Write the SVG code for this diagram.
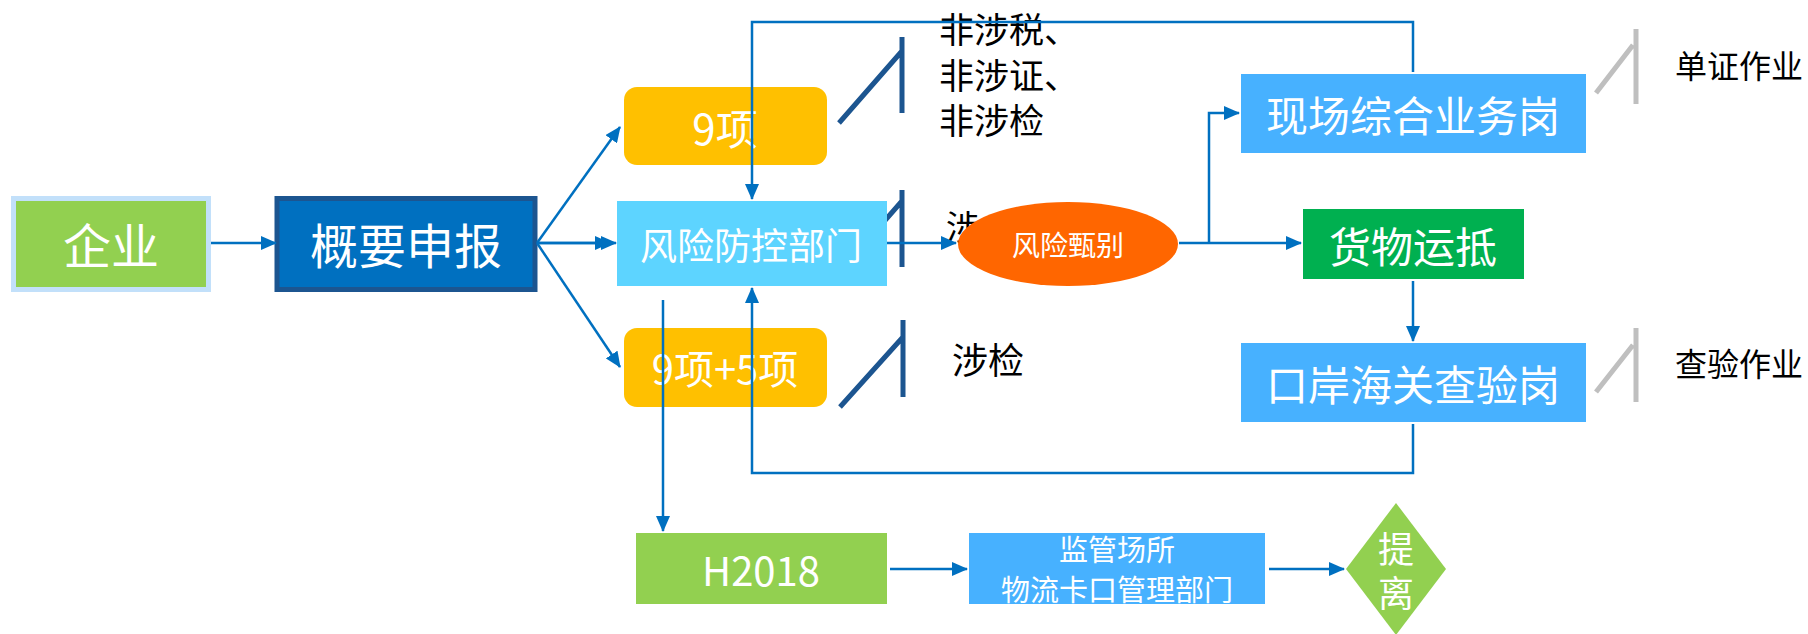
<svg xmlns="http://www.w3.org/2000/svg" width="1808" height="634" viewBox="0 0 1808 634">
<defs>
<marker id="ah" markerUnits="userSpaceOnUse" markerWidth="16" markerHeight="14" refX="15" refY="7" orient="auto">
<path d="M0,0 L16,7 L0,14 Z" fill="#0070C0"/>
</marker>
<style>
.t{font-family:"Noto Sans CJK SC","Noto Sans",sans-serif;fill:#fff;text-anchor:middle;dominant-baseline:central}
.k{font-family:"Noto Sans CJK SC","Noto Sans",sans-serif;fill:#000}
.c{fill:none;stroke:#0070C0;stroke-width:2.5}
.sb{fill:none;stroke:#1C5590;stroke-width:5}
.sg{fill:none;stroke:#BFBFBF;stroke-width:5}
</style>
</defs>
<rect width="1808" height="634" fill="#fff"/>
<g id="decor">
<path class="sb" d="M839,123 L902,51 M902,37 V113"/>
<text class="k" font-size="35"><tspan x="939" y="43">非涉税、</tspan><tspan x="939" y="89">非涉证、</tspan><tspan x="939" y="134">非涉检</tspan></text>
<path class="sb" d="M839,273 L902,201 M902,190 V267"/>
<text class="k" font-size="34" x="946" y="240">涉</text>
<path class="sb" d="M840,407 L903,337 M903,320 V397"/>
<text class="k" font-size="36" x="952" y="374">涉检</text>
<path class="sg" d="M1596,93 L1633,45 M1636,29 V104"/>
<text class="k" font-size="32" x="1675" y="78">单证作业</text>
<path class="sg" d="M1596,392 L1633,345 M1636,328 V402"/>
<text class="k" font-size="32" x="1675" y="376">查验作业</text>
</g>
<g id="qiye">
<rect x="13.5" y="198.5" width="195" height="91" fill="#92D050" stroke="#C2E0FA" stroke-width="5"/>
<text class="t" x="111" y="243" font-size="48">企业</text>
</g>
<g id="gaiyao">
<rect x="277" y="198.5" width="258" height="91" fill="#0070C0" stroke="#1C5590" stroke-width="5"/>
<text class="t" x="406" y="243" font-size="48">概要申报</text>
</g>
<g id="n9">
<rect x="624" y="87" width="203" height="78" rx="13" fill="#FFC000"/>
<text class="t" x="725" y="126" font-size="42">9项</text>
</g>
<g id="fengkong">
<rect x="617" y="201" width="270" height="85" fill="#5DD4FF"/>
<text class="t" x="751" y="244" font-size="37">风险防控部门</text>
</g>
<g id="n95">
<rect x="624" y="328" width="203" height="79" rx="13" fill="#FFC000"/>
<text class="t" x="725" y="367" font-size="40">9项+5项</text>
</g>
<g id="zhenbie">
<ellipse cx="1068" cy="244" rx="110" ry="42" fill="#FF6600"/>
<text class="t" x="1068" y="244" font-size="28">风险甄别</text>
</g>
<g id="xianchang">
<rect x="1241" y="74" width="345" height="79" fill="#47B1FF"/>
<text class="t" x="1413" y="113" font-size="42">现场综合业务岗</text>
</g>
<g id="yundi">
<rect x="1303" y="209" width="221" height="70" fill="#00B050"/>
<text class="t" x="1413" y="244" font-size="42">货物运抵</text>
</g>
<g id="chayan">
<rect x="1241" y="343" width="345" height="79" fill="#47B1FF"/>
<text class="t" x="1413" y="382" font-size="42">口岸海关查验岗</text>
</g>
<g id="h2018">
<rect x="636" y="533" width="251" height="71" fill="#92D050"/>
<text class="t" x="761" y="569" font-size="40">H2018</text>
</g>
<g id="jianguan">
<rect x="969" y="533" width="296" height="71" fill="#47B1FF"/>
<text class="t" x="1117" y="548" font-size="29">监管场所</text>
<text class="t" x="1117" y="588" font-size="29">物流卡口管理部门</text>
</g>
<g id="tili">
<path d="M1396,503 L1446,569 L1396,635 L1346,569 Z" fill="#92D050"/>
<text class="t" x="1396" y="547" font-size="36">提</text>
<text class="t" x="1396" y="591" font-size="36">离</text>
</g>
<g id="connectors">
<path class="c" d="M211,243 H276" marker-end="url(#ah)"/>
<path class="c" d="M537,243 L620,127" marker-end="url(#ah)"/>
<path class="c" d="M537,243 H610" marker-end="url(#ah)"/>
<path class="c" d="M537,243 H616" marker-end="url(#ah)"/>
<path class="c" d="M537,243 L620,367" marker-end="url(#ah)"/>
<path class="c" d="M887,243 H956" marker-end="url(#ah)"/>
<path class="c" d="M1179,243 H1301" marker-end="url(#ah)"/>
<path class="c" d="M1209,243 V113 H1239" marker-end="url(#ah)"/>
<path class="c" d="M1413,281 V341" marker-end="url(#ah)"/>
<path class="c" d="M1413,72 V22 H752 V199" marker-end="url(#ah)"/>
<path class="c" d="M1413,424 V473 H752 V288" marker-end="url(#ah)"/>
<path class="c" d="M663,300 V531" marker-end="url(#ah)"/>
<path class="c" d="M890,569 H967" marker-end="url(#ah)"/>
<path class="c" d="M1269,569 H1344" marker-end="url(#ah)"/>
</g>
</svg>
